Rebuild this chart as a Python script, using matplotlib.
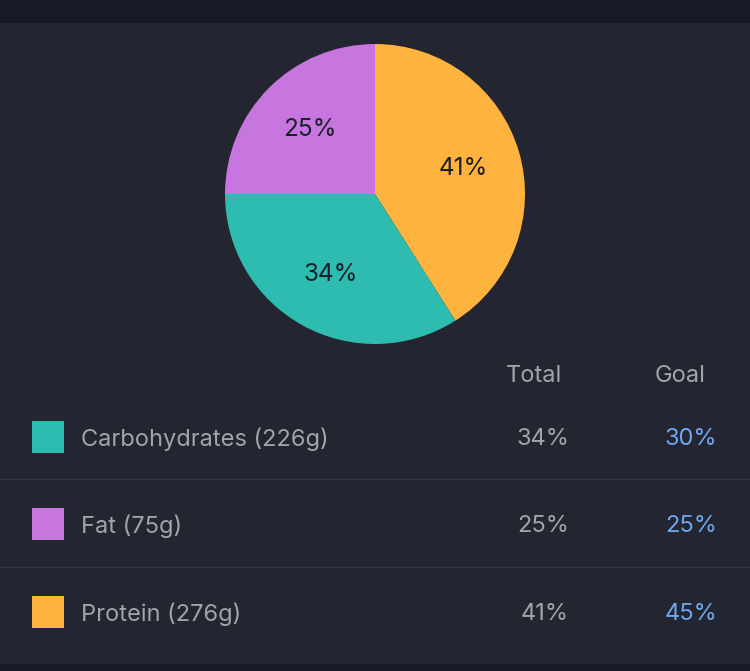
import matplotlib
matplotlib.use("Agg")
import matplotlib.pyplot as plt
from matplotlib.patches import Rectangle

# ── Данные ────────────────────────────────────────────────
pie_names = ["Protein", "Carbohydrates", "Fat"]
pie_pct = [41, 34, 25]
pie_colors = ["#ffb33f", "#2ebbb0", "#c776e0"]

row_labels = ["Carbohydrates (226g)", "Fat (75g)", "Protein (276g)"]
row_colors = ["#2ebbb0", "#c776e0", "#ffb33f"]
total_pct = ["34%", "25%", "41%"]
goal_pct = ["30%", "25%", "45%"]

BG = "#232630"
TOP = "#161a25"
GREY = "#a2a3ab"
BLUE = "#6fa7ee"
LINE = "#363944"

plt.rcParams["font.family"] = ["Inter", "DejaVu Sans"]

W, H = 750, 671
fig = plt.figure(figsize=(W / 100, H / 100), dpi=100)
fig.patch.set_facecolor(BG)

# фон и таблица в пиксельных координатах
bg = fig.add_axes([0, 0, 1, 1])
bg.set_xlim(0, W)
bg.set_ylim(H, 0)
bg.axis("off")
bg.add_patch(Rectangle((0, 0), W, 23, color=TOP, lw=0))
bg.add_patch(Rectangle((0, 664), W, 7, color=TOP, lw=0))
for y in (479, 567):
    bg.plot([0, W], [y, y], color=LINE, lw=1)

fs = 17
bg.text(562, 376, "Total", color=GREY, fontsize=fs, ha="right", va="center")
bg.text(706, 376, "Goal", color=GREY, fontsize=fs, ha="right", va="center")

row_y = [437, 524, 612]
for y, lab, col, tot, goal in zip(row_y, row_labels, row_colors, total_pct, goal_pct):
    bg.add_patch(Rectangle((32, y - 16), 32, 32, color=col, lw=0))
    bg.text(81, y + 2, lab, color=GREY, fontsize=fs, ha="left", va="center")
    bg.text(569, y + 2, tot, color=GREY, fontsize=fs, ha="right", va="center")
    bg.text(717, y + 2, goal, color=BLUE, fontsize=fs, ha="right", va="center")

# круговая диаграмма
ax = fig.add_axes([225 / W, 1 - 344 / H, 300 / W, 300 / H])
ax.pie(pie_pct, colors=pie_colors, startangle=90, counterclock=False,
       autopct="%d%%", pctdistance=0.61, radius=1,
       textprops=dict(color="#1c1f2a", fontsize=17.5))
ax.set_xlim(-1, 1)
ax.set_ylim(-1, 1)
ax.set_aspect("equal")

fig.savefig("out.png", dpi=100, facecolor=fig.get_facecolor())
